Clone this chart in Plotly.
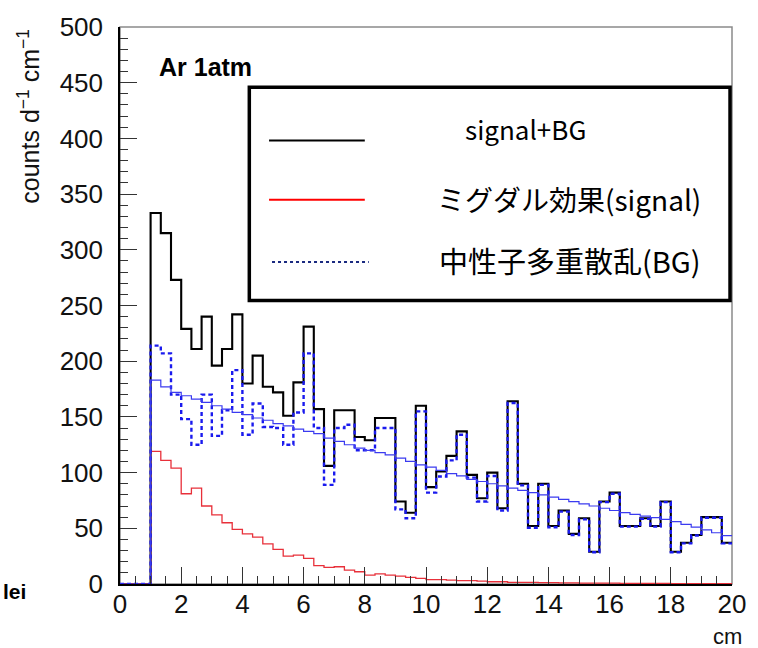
import plotly.graph_objects as go

# ---- data ----
# 57 bins of width 1/3 cm from 1.0 cm to 20.0 cm
bin_start = 1.0
bin_width = 1.0 / 3.0
n_bins = 57

signal_bg = [333, 315, 273, 229, 211, 240, 196, 211, 242, 180,
             205, 177, 172, 151, 181, 231, 157, 106, 156, 156,
             132, 129, 149, 149, 74, 64, 160, 87, 101, 115,
             137, 98, 77, 100, 68, 164, 90, 52, 90, 52,
             66, 45, 59, 29, 74, 82, 52, 52, 59, 52,
             74, 29, 37, 44, 60, 60, 37]

signal = [119, 111, 104, 81, 86, 70, 62, 55, 49, 45,
          42, 36, 31, 25, 26, 23, 16.5, 15, 15.5, 12.5,
          11, 8, 9, 8, 7, 6, 5, 4, 4, 3.5,
          3, 3, 2.5, 2, 2, 1.5, 1.5, 1.5, 1.2, 1.2,
          1, 1, 0.8, 0.8, 0.7, 0.7, 0.6, 0.6, 0.5, 0.5,
          0.5, 0.4, 0.4, 0.4, 0.3, 0.3, 0.3]

bg = [214, 207, 170, 148, 125, 170, 133, 156, 192, 134,
      162, 141, 140, 125, 154, 207, 140, 89, 140, 143,
      120, 120, 140, 140, 67, 59, 155, 82, 96.5, 111,
      134, 95.5, 74, 97, 66, 162.5, 88.5, 50.5, 89, 51,
      65, 44, 58, 28.5, 73.5, 81, 51.5, 51.5, 58.5, 51.5,
      73.5, 28.5, 36.5, 43.5, 59.5, 59.5, 36.5]

bg_fit = [183, 177, 172, 169, 166, 163, 160, 157, 154, 152,
          149, 147, 144, 142, 139, 137, 135, 131, 128, 125,
          122, 120, 118, 116, 113, 110, 107, 105, 102, 99,
          97, 94, 92, 90, 88, 86, 84, 82, 80, 78,
          76, 74, 72, 70, 68, 66, 64, 62.5, 61, 59.5,
          58, 56, 53.5, 51, 48.5, 46, 43.5]

x_ticks = [0, 2, 4, 6, 8, 10, 12, 14, 16, 18, 20]
y_ticks = [0, 50, 100, 150, 200, 250, 300, 350, 400, 450, 500]

legend_labels = ["signal+BG", "ミグダル効果(signal)", "中性子多重散乱(BG)"]

# ---- helpers ----
edges = [bin_start + i * bin_width for i in range(n_bins)] + [bin_start + n_bins * bin_width]
xs = [0.0] + edges


def step_y(vals):
    return [0] + list(vals) + [vals[-1]]


W, H = 758, 648
L, R, T, B = 120, 18, 20, 64
PW = W - L - R
PH = H - T - B


def px(x):
    return (x - L) / PW


def py(y):
    return (H - B - y) / PH


fig = go.Figure()

fig.add_trace(go.Scatter(x=xs, y=step_y(signal_bg), mode="lines", line_shape="hv",
                         line=dict(color="#000000", width=2.1), showlegend=False,
                         name=legend_labels[0]))
fig.add_trace(go.Scatter(x=xs, y=step_y(signal), mode="lines", line_shape="hv",
                         line=dict(color="#e8303a", width=1.3), showlegend=False,
                         name=legend_labels[1]))
fig.add_trace(go.Scatter(x=xs, y=step_y(bg), mode="lines", line_shape="hv",
                         line=dict(color="#1a1aee", width=2.4, dash="4px,3px"), showlegend=False,
                         name=legend_labels[2]))
fig.add_trace(go.Scatter(x=xs, y=step_y(bg_fit), mode="lines", line_shape="hv",
                         line=dict(color="#3b3bf0", width=1.2), showlegend=False,
                         name="fit"))

tick_font = dict(family="Liberation Sans, Arial, sans-serif", size=26, color="#111111")

fig.update_xaxes(range=[0, 20], tickvals=x_ticks, ticktext=[str(v) for v in x_ticks],
                 ticks="inside", ticklen=17, tickwidth=1, tickcolor="#333333",
                 minor=dict(dtick=0.5, ticks="inside", ticklen=8, tickcolor="#333333", tickwidth=1),
                 showline=True, linecolor="#000000", linewidth=1.5,
                 showgrid=False, zeroline=False, tickfont=tick_font, ticklabelstandoff=-4)
fig.update_yaxes(range=[0, 500], tickvals=y_ticks, ticktext=[str(v) for v in y_ticks],
                 ticks="inside", ticklen=17, tickwidth=1, tickcolor="#333333",
                 minor=dict(dtick=10, ticks="inside", ticklen=8, tickcolor="#333333", tickwidth=1),
                 showline=True, linecolor="#000000", linewidth=1.5,
                 showgrid=False, zeroline=False, tickfont=tick_font, ticklabelstandoff=10)

shapes = []
# frame (top/right in gray)
shapes.append(dict(type="rect", xref="paper", yref="paper", x0=0, x1=1, y0=0, y1=1,
                   line=dict(color="#8a8a8a", width=1.5), layer="below"))
# legend box
shapes.append(dict(type="rect", xref="paper", yref="paper",
                   x0=px(251), x1=px(738), y0=py(297), y1=py(81),
                   line=dict(color="#000000", width=3.5), fillcolor="#ffffff", layer="above"))
# legend lines
shapes.append(dict(type="line", xref="paper", yref="paper", x0=px(271), x1=px(368),
                   y0=py(135), y1=py(135), line=dict(color="#000000", width=2), layer="above"))
shapes.append(dict(type="line", xref="paper", yref="paper", x0=px(271), x1=px(368),
                   y0=py(195), y1=py(195), line=dict(color="#ff0000", width=2), layer="above"))
shapes.append(dict(type="line", xref="paper", yref="paper", x0=px(274), x1=px(372),
                   y0=py(258), y1=py(258), line=dict(color="#1a2a80", width=2, dash="dot"),
                   layer="above"))

cjk = "Noto Sans CJK JP, sans-serif"
helv = "Liberation Sans, Arial, sans-serif"
annotations = [
    dict(text=legend_labels[0], xref="paper", yref="paper", x=px(531), y=py(123),
         xanchor="center", yanchor="middle", showarrow=False,
         font=dict(family=cjk, size=26, color="#000000")),
    dict(text=legend_labels[1], xref="paper", yref="paper", x=px(575), y=py(194),
         xanchor="center", yanchor="middle", showarrow=False,
         font=dict(family=cjk, size=28, color="#000000")),
    dict(text=legend_labels[2], xref="paper", yref="paper", x=px(576), y=py(256),
         xanchor="center", yanchor="middle", showarrow=False,
         font=dict(family=cjk, size=29, color="#000000")),
    dict(text="<b>Ar 1atm</b>", xref="paper", yref="paper", x=px(157), y=py(60),
         xanchor="left", yanchor="middle", showarrow=False,
         font=dict(family=helv, size=25, color="#000000")),
    dict(text="counts d<sup>−1</sup> cm<sup>−1</sup>", xref="paper", yref="paper",
         x=px(27), y=py(20), xanchor="center", yanchor="top", textangle=-90, showarrow=False,
         font=dict(family=helv, size=25, color="#111111")),
    dict(text="cm", xref="paper", yref="paper", x=px(751), y=py(637),
         xanchor="right", yanchor="middle", showarrow=False, borderpad=0,
         font=dict(family=helv, size=22, color="#111111")),
    dict(text="<b>lei</b>", xref="paper", yref="paper", x=px(0), y=py(592),
         xanchor="left", yanchor="middle", showarrow=False, borderpad=0,
         font=dict(family=helv, size=21, color="#000000")),
]

fig.update_layout(width=W, height=H, margin=dict(l=L, r=R, t=T, b=B),
                  plot_bgcolor="#ffffff", paper_bgcolor="#ffffff",
                  shapes=shapes, annotations=annotations, showlegend=False)

fig.write_html("out.html")
